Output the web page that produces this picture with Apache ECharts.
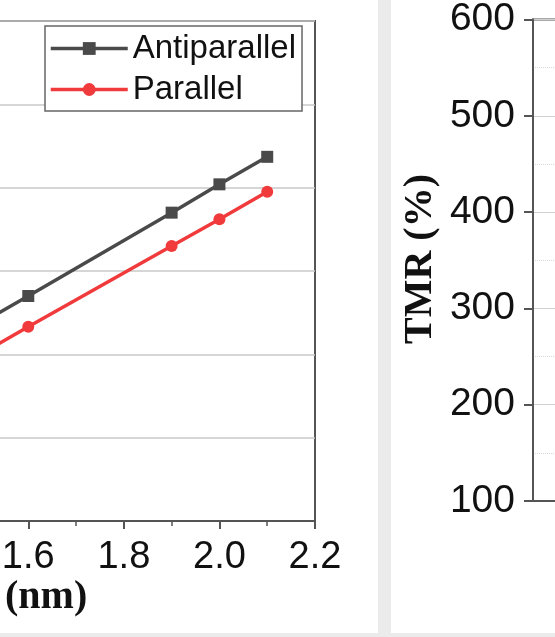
<!DOCTYPE html>
<html>
<head>
<meta charset="utf-8">
<script src="https://cdn.jsdelivr.net/npm/echarts@6/dist/echarts.min.js"></script>
<style>
  html, body { margin: 0; padding: 0; background: #fff; }
  #chart { width: 555px; height: 637px; }
</style>
</head>
<body>
<div id="chart"></div>
<script>
// Barrier thickness (nm) and the two magnetic configurations
const thickness = [1.5, 1.6, 1.9, 2.0, 2.1];
const antiparallel = [2.37, 2.70, 3.70, 4.04, 4.37];
const parallel = [2.00, 2.33, 3.30, 3.62, 3.95];
const seriesNames = ['Antiparallel', 'Parallel'];

// Axis ranges
const xTicks = { min: 1.4, max: 2.2, step: 0.2 };
const leftY = { min: 0, max: 6, step: 1 };
const tmrTicks = { min: 100, max: 600, step: 100 };

const SANS = '"Liberation Sans", Arial, sans-serif';
const SERIF = '"Liberation Serif", "Times New Roman", serif';
const FRAME = '#555';

const chart = echarts.init(document.getElementById('chart'), null, { renderer: 'canvas' });

chart.setOption({
  backgroundColor: '#ffffff',
  animation: false,
  graphic: [
    { type: 'rect', z: -10, shape: { x: 378, y: 0, width: 13, height: 637 }, style: { fill: '#ebebeb' } },
    { type: 'rect', z: -10, shape: { x: 0, y: 633, width: 555, height: 4 }, style: { fill: '#ebebeb' } },
    {
      type: 'text', x: 5, y: 598,
      style: { text: '(nm)', font: 'bold 40px ' + SERIF, fill: '#111', textVerticalAlign: 'middle', textAlign: 'left' }
    },
    {
      type: 'text', x: 421, y: 259, rotation: Math.PI / 2,
      style: { text: 'TMR (%)', font: 'bold 40px ' + SERIF, fill: '#111', textVerticalAlign: 'middle', textAlign: 'center' }
    }
  ],
  legend: {
    left: 45, top: 26,
    orient: 'vertical',
    data: seriesNames,
    itemWidth: 77, itemHeight: 16, itemGap: 8, itemTextGap: 9,
    padding: [6, 6, 5, 4],
    backgroundColor: '#fff',
    borderColor: '#666', borderWidth: 1.5,
    lineStyle: { width: 3.5 },
    textStyle: { fontFamily: SANS, fontSize: 33, color: '#111' }
  },
  grid: [
    { left: -67.3, right: 240, top: 21, bottom: 116, outerBoundsMode: 'none', containLabel: false,
      show: true, borderColor: FRAME, borderWidth: 2, backgroundColor: 'transparent' },
    { left: 533, right: -60, top: 19.5, bottom: 136, outerBoundsMode: 'none', containLabel: false,
      show: true, borderColor: FRAME, borderWidth: 2, backgroundColor: 'transparent' }
  ],
  xAxis: [
    {
      gridIndex: 0, type: 'value',
      min: xTicks.min, max: xTicks.max, interval: xTicks.step,
      axisLine: { lineStyle: { color: FRAME, width: 2 } },
      axisTick: { inside: false, length: 8, lineStyle: { color: FRAME, width: 2 } },
      minorTick: { show: true, splitNumber: 2, length: 5, lineStyle: { color: FRAME, width: 1.5 } },
      axisLabel: { fontFamily: SANS, fontSize: 38, color: '#111', margin: 18, formatter: v => v.toFixed(1) },
      splitLine: { show: false }
    },
    {
      gridIndex: 1, type: 'value', min: 0, max: 1,
      axisLine: { lineStyle: { color: FRAME, width: 2 } },
      axisTick: { show: false }, axisLabel: { show: false }, splitLine: { show: false }
    }
  ],
  yAxis: [
    {
      gridIndex: 0, type: 'value',
      min: leftY.min, max: leftY.max, interval: leftY.step,
      axisLine: { show: false }, axisTick: { show: false }, axisLabel: { show: false },
      splitLine: { show: true, lineStyle: { color: '#c8c8c8', width: 1.5 } }
    },
    {
      gridIndex: 1, type: 'value',
      min: tmrTicks.min, max: tmrTicks.max, interval: tmrTicks.step,
      axisLine: { lineStyle: { color: FRAME, width: 2 } },
      axisTick: { inside: false, length: 9, lineStyle: { color: FRAME, width: 2 } },
      axisLabel: { fontFamily: SANS, fontSize: 39, color: '#111', margin: 18 },
      splitLine: { show: true, lineStyle: { color: '#d0d0d0', width: 1 } },
      minorTick: { show: false, splitNumber: 2 },
      minorSplitLine: { show: true, lineStyle: { color: '#d8d8d8', width: 1, type: 'dotted' } }
    }
  ],
  series: [
    {
      name: seriesNames[0], type: 'line', xAxisIndex: 0, yAxisIndex: 0,
      data: thickness.map((t, i) => [t, antiparallel[i]]),
      symbol: 'rect', symbolSize: 12,
      lineStyle: { color: '#4a4a4a', width: 3.5 },
      itemStyle: { color: '#4a4a4a' }
    },
    {
      name: seriesNames[1], type: 'line', xAxisIndex: 0, yAxisIndex: 0,
      data: thickness.map((t, i) => [t, parallel[i]]),
      symbol: 'circle', symbolSize: 12,
      lineStyle: { color: '#f03a3c', width: 3.5 },
      itemStyle: { color: '#f03a3c' }
    }
  ]
});
</script>
</body>
</html>
